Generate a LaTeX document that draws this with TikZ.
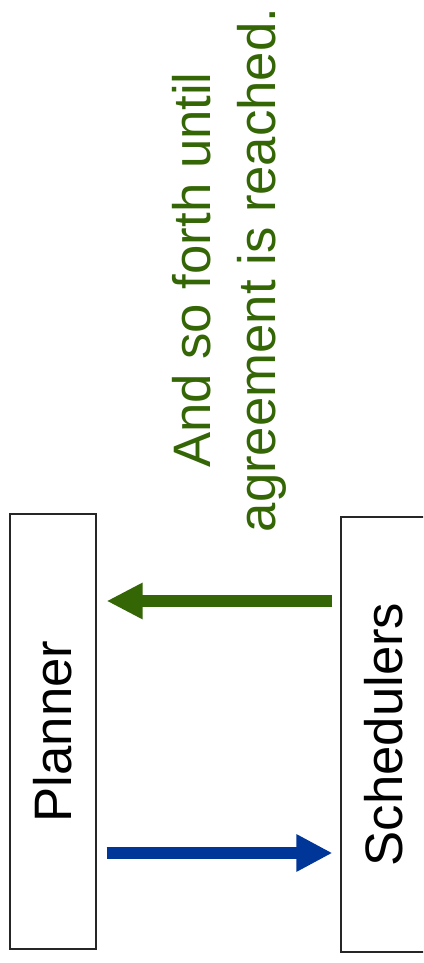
\documentclass[tikz,border=0pt]{standalone}
\usepackage{fontspec}
\setmainfont{Liberation Sans}
\usepackage{tikz}
\usetikzlibrary{arrows.meta}
\definecolor{agreegreen}{RGB}{52,102,6}
\definecolor{planblue}{RGB}{0,54,152}
\tikzstyle{agentbox}=[rectangle,draw=black!85,line width=1.2pt,rotate=90,
                      inner sep=0pt,minimum width=435pt,minimum height=86pt,
                      font=\fontsize{52.7pt}{65pt}\selectfont]
\tikzstyle{bluearrow}=[draw=planblue,line width=12.5pt,
                       -{Triangle[length=36pt,width=35pt,fill=planblue]}]
\tikzstyle{greenarrow}=[draw=agreegreen,line width=12pt,
                        -{Triangle[length=36pt,width=34pt,fill=agreegreen]}]

\begin{document}
\begin{tikzpicture}[x=1pt,y=1pt]
    \useasboundingbox (0,0) rectangle (423,963);
    \clip (0,0) rectangle (423,963);
    \node (planner) at (53, 231.5) [agentbox]{Planner};
    \node (schedulers) at (384, 228.5) [agentbox]{Schedulers};
    \node (note) at (229, 693) [rotate=90,inner sep=0pt,align=center,
        text=agreegreen,font=\fontsize{52.7pt}{65pt}\selectfont]
        {And so forth until\\agreement is reached.};
    \draw[bluearrow,shorten <=10pt,shorten >=8pt]
        (planner.south |- 0,110) -- (schedulers.north |- 0,110);
    \draw[greenarrow,shorten <=8pt,shorten >=10pt]
        (schedulers.north |- 0,362) -- (planner.south |- 0,362);
  \end{tikzpicture}
\end{document}
